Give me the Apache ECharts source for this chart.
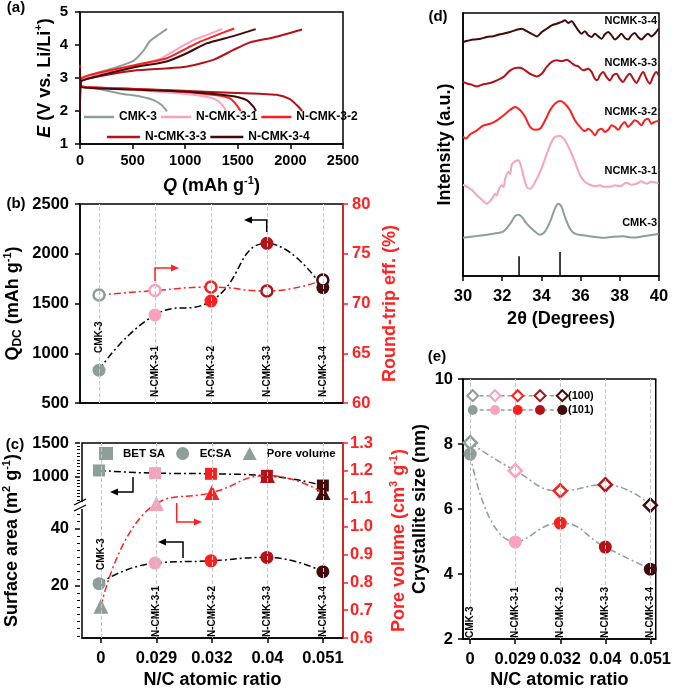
<!DOCTYPE html>
<html><head><meta charset="utf-8">
<script src="https://cdn.jsdelivr.net/npm/echarts@6/dist/echarts.min.js"></script>
<style>html,body{margin:0;padding:0;background:#fff}#c{width:674px;height:692px}</style>
</head><body><div id="c"></div>
<script>
// ---------------- DATA ----------------
const samples = ['CMK-3', 'N-CMK-3-1', 'N-CMK-3-2', 'N-CMK-3-3', 'N-CMK-3-4'];
const ratioLabels = ['0', '0.029', '0.032', '0.04', '0.051'];
const categoryIdx = [0, 1, 2, 3, 4];

// (a) voltage profiles [Q (mAh/g), E (V)]
const dischargeCMK3 = [[0,3.3],[8,2.78],[60,2.72],[190,2.66],[380,2.53],[570,2.44],[700,2.33],[776,2.18],[827,1.99]];
const chargeCMK3 = [[0,2.0],[6,2.92],[60,3.02],[190,3.18],[350,3.33],[507,3.52],[602,3.82],[665,4.12],[760,4.34],[827,4.49]];
const dischargeN1 = [[0,3.2],[8,2.76],[100,2.72],[507,2.64],[982,2.52],[1204,2.43],[1300,2.33],[1353,2.18],[1388,2.0]];
const chargeN1 = [[0,2.0],[6,2.9],[100,3.06],[507,3.36],[760,3.58],[951,3.93],[1077,4.15],[1204,4.3],[1352,4.49]];
const dischargeN2 = [[0,3.1],[8,2.76],[100,2.72],[824,2.62],[1299,2.48],[1426,2.38],[1489,2.18],[1527,2.0]];
const chargeN2 = [[0,2.1],[6,2.95],[100,3.1],[507,3.38],[824,3.6],[1014,3.9],[1141,4.1],[1299,4.3],[1466,4.5]];
const dischargeN3 = [[0,3.4],[8,2.77],[100,2.72],[600,2.66],[1141,2.59],[1711,2.52],[1870,2.49],[1996,2.36],[2060,2.18],[2112,2.0]];
const chargeN3 = [[0,2.0],[6,2.88],[100,3.0],[507,3.22],[982,3.33],[1267,3.55],[1458,3.85],[1616,4.08],[1838,4.23],[2112,4.47]];
const dischargeN4 = [[0,3.3],[8,2.74],[100,2.7],[982,2.59],[1458,2.45],[1584,2.33],[1648,2.13],[1673,2.0]];
const chargeN4 = [[0,2.0],[6,2.88],[100,3.0],[507,3.32],[824,3.5],[1014,3.75],[1204,4.05],[1458,4.27],[1670,4.48]];

// (b)
const qdc = [830, 1385, 1525, 2105, 1660];
const roundTrip = [70.85, 71.3, 71.65, 71.25, 72.35];

// (c)
const betSA = [1090, 1050, 1040, 1010, 865];
const ecsa = [20.8, 28.0, 28.8, 30.0, 25.0];
const poreVolume = [0.714, 1.083, 1.122, 1.183, 1.122];

// (d) XRD [2theta, intensity a.u.]
const xrdLabels = ['CMK-3', 'NCMK-3-1', 'NCMK-3-2', 'NCMK-3-3', 'NCMK-3-4'];
const xrdCMK3 = [[30.0,14.5],[30.71,15.2],[31.56,16.1],[32.07,17.0],[32.41,19.9],[32.66,22.8],[32.83,23.3],[33.0,22.5],[33.25,19.9],[33.59,17.4],[33.93,15.7],[34.19,17.0],[34.44,20.6],[34.69,25.6],[34.86,27.5],[35.03,26.3],[35.2,22.5],[35.46,18.0],[35.71,16.1],[36.14,15.5],[36.64,14.9],[37.15,14.5],[37.66,14.9],[38.17,15.1],[38.68,14.6],[39.19,15.1],[39.69,15.7],[39.98,16.1]];
const xrdN1 = [[30.0,34.7],[30.37,33.2],[30.71,30.7],[31.05,28.4],[31.22,27.5],[31.47,29.2],[31.64,31.3],[31.72,30.6],[31.81,32.6],[31.98,34.5],[32.07,33.8],[32.15,37.0],[32.32,39.6],[32.4,38.8],[32.49,42.4],[32.66,43.6],[32.83,44.0],[32.92,42.7],[33.08,38.3],[33.25,33.9],[33.42,33.2],[33.68,35.8],[33.93,39.6],[34.19,44.6],[34.44,49.7],[34.69,52.9],[34.95,53.2],[35.2,51.6],[35.46,47.8],[35.71,43.4],[35.97,38.3],[36.22,35.8],[36.47,34.7],[36.73,34.2],[36.98,34.5],[37.24,33.9],[37.49,33.9],[37.75,34.5],[38.0,34.1],[38.17,34.7],[38.34,35.5],[38.59,34.7],[38.85,35.1],[39.1,36.0],[39.36,35.1],[39.61,35.8],[39.86,35.5],[39.98,35.1]];
const xrdN2 = [[30.0,52.9],[30.15,52.3],[30.37,53.9],[30.71,55.4],[31.05,57.3],[31.39,57.9],[31.73,59.2],[32.07,61.1],[32.41,63.2],[32.66,64.3],[32.92,63.0],[33.17,60.5],[33.42,56.7],[33.68,55.6],[33.93,56.0],[34.19,59.2],[34.44,63.0],[34.69,65.5],[34.95,66.5],[35.2,65.5],[35.46,63.0],[35.71,59.2],[35.97,56.7],[36.22,55.1],[36.39,56.0],[36.56,55.1],[36.73,53.5],[36.9,55.4],[37.07,56.0],[37.24,54.8],[37.41,55.6],[37.58,57.3],[37.75,56.7],[37.92,55.6],[38.08,57.3],[38.25,58.6],[38.42,56.7],[38.59,57.9],[38.76,59.2],[38.93,58.6],[39.1,57.3],[39.27,59.2],[39.44,59.8],[39.61,57.9],[39.78,58.6],[39.98,58.9]];
const xrdN3 = [[30.0,73.8],[30.2,73.2],[30.37,72.9],[30.55,72.4],[30.71,72.1],[31.05,72.9],[31.39,73.4],[31.73,74.4],[32.07,75.7],[32.41,78.2],[32.75,79.2],[32.92,79.2],[33.17,78.2],[33.42,76.9],[33.76,75.9],[34.02,76.9],[34.27,79.5],[34.53,81.4],[34.78,82.0],[35.03,81.7],[35.29,82.2],[35.54,81.0],[35.71,80.1],[35.88,79.7],[36.14,78.2],[36.39,78.8],[36.56,77.6],[36.73,75.0],[36.85,74.4],[36.98,76.3],[37.15,77.6],[37.32,75.7],[37.49,74.4],[37.66,76.3],[37.83,76.9],[38.0,75.0],[38.17,73.8],[38.34,75.7],[38.51,76.9],[38.68,75.0],[38.85,73.4],[39.02,75.7],[39.19,77.6],[39.36,75.0],[39.53,73.1],[39.69,75.7],[39.86,77.6],[39.98,76.3]];
const xrdN4 = [[30.0,89.0],[30.54,89.9],[30.9,90.2],[31.22,90.9],[31.55,91.2],[31.9,91.9],[32.41,92.8],[33.0,94.0],[33.25,93.1],[33.51,92.1],[33.76,91.1],[34.02,92.8],[34.27,94.0],[34.53,95.3],[34.78,95.9],[35.03,96.6],[35.2,97.2],[35.37,96.2],[35.54,96.9],[35.71,95.3],[35.88,93.4],[36.05,92.1],[36.22,93.1],[36.39,91.5],[36.56,90.9],[36.73,92.1],[36.9,91.1],[37.07,90.2],[37.24,91.9],[37.41,92.8],[37.58,91.5],[37.75,89.9],[37.92,90.9],[38.08,92.1],[38.25,90.6],[38.42,89.9],[38.59,91.5],[38.76,92.4],[38.93,90.9],[39.1,89.9],[39.27,91.1],[39.44,92.1],[39.61,91.1],[39.78,92.1],[39.98,94.0]];
const refPeaks = [[32.86, 7.5], [34.95, 9.1]];

// (e) crystallite size (nm)
const cs100 = [8.04, 7.18, 6.56, 6.75, 6.12];
const cs101 = [7.69, 4.99, 5.57, 4.83, 4.15];

// ---------------- STYLE ----------------
const palette = ['#8E9E98', '#F7A3C0', '#FF1E1E', '#B31218', '#420A0A'];
const RED = '#FF2222';
const FONT = '"Liberation Sans", Arial, sans-serif';
const DASHDOT = [7, 3, 2, 3];

function merge(a, b) {
  const r = Object.assign({}, a);
  for (const k in b) {
    if (b[k] && typeof b[k] === 'object' && !Array.isArray(b[k]) && a[k] && typeof a[k] === 'object' && !Array.isArray(a[k])) r[k] = merge(a[k], b[k]);
    else r[k] = b[k];
  }
  return r;
}
function nameStyle(color) {
  const base = {fontWeight: 'bold', fontFamily: FONT, color: color};
  return {fontSize: 18, fontWeight: 'bold', fontFamily: FONT, color: color, lineHeight: 22,
    rich: {
      n: merge(base, {fontSize: 18, lineHeight: 22}),
      i: merge(base, {fontSize: 18, fontStyle: 'italic', lineHeight: 22}),
      sup: merge(base, {fontSize: 11, lineHeight: 11, verticalAlign: 'top'}),
      sub: merge(base, {fontSize: 12, lineHeight: 12, verticalAlign: 'bottom'})
    }};
}
const plain = v => String(Math.round(v * 1000) / 1000);
const baseAxis = {
  type: 'value',
  axisLine: {show: true, onZero: false, lineStyle: {color: '#000', width: 1.5}},
  axisTick: {show: true, inside: false, length: 5, lineStyle: {color: '#000', width: 1.5}},
  axisLabel: {color: '#000', fontSize: 16.5, fontWeight: 'bold', fontFamily: FONT, formatter: plain},
  splitLine: {show: false},
  nameLocation: 'middle',
  nameTextStyle: nameStyle('#000')
};
function ax(o) { return merge(baseAxis, o); }

const gridBox = {show: true, borderColor: '#000', borderWidth: 1.5, backgroundColor: 'transparent'};
const grids = [
  merge(gridBox, {left: 80, top: 12, width: 263, height: 132}),   // a
  merge(gridBox, {left: 80, top: 204, width: 263, height: 199}),  // b
  {show: false, left: 80, top: 443, width: 263, height: 67},      // c upper
  {show: false, left: 80, top: 506, width: 263, height: 137},     // c lower
  merge(gridBox, {left: 80, top: 443, width: 263, height: 200}),  // c full
  merge(gridBox, {left: 463, top: 13, width: 196, height: 263}),  // d
  merge(gridBox, {left: 463, top: 379, width: 196, height: 264})  // e
];

const catAxisBC = {min: -0.34, max: 4.36};
const xAxes = [
  ax({gridIndex: 0, min: 0, max: 2500, interval: 500, axisLabel: {fontSize: 14.5, margin: 9},
      name: '{i|Q}{n| (mAh g}{sup|-1}{n|)}', nameGap: 31}),
  ax(merge(catAxisBC, {gridIndex: 1, axisLabel: {show: false}, axisTick: {show: false}})),
  ax(merge(catAxisBC, {gridIndex: 2, show: false})),
  ax(merge(catAxisBC, {gridIndex: 3, show: false})),
  ax(merge(catAxisBC, {gridIndex: 4, axisTick: {customValues: categoryIdx},
      axisLabel: {customValues: categoryIdx, margin: 12, formatter: v => ratioLabels[Math.round(v)]},
      name: 'N/C atomic ratio', nameGap: 31})),
  ax({gridIndex: 5, min: 30, max: 40, interval: 2, axisLabel: {margin: 12},
      name: '2θ (Degrees)', nameGap: 32}),
  ax({gridIndex: 6, min: -0.16, max: 4.12, axisTick: {customValues: categoryIdx},
      axisLabel: {customValues: categoryIdx, margin: 12, formatter: v => ratioLabels[Math.round(v)]},
      name: 'N/C atomic ratio', nameGap: 29})
];

const redAxis = {axisLine: {lineStyle: {color: RED}}, axisTick: {lineStyle: {color: RED}}, axisLabel: {color: RED}, nameTextStyle: nameStyle(RED)};
const yAxes = [
  ax({gridIndex: 0, min: 1, max: 5, interval: 1, axisLabel: {fontSize: 15, margin: 12},
      name: '{i|E}{n| (V vs. Li/Li}{sup|+}{n|)}', nameGap: 24, nameRotate: 90}),
  ax({gridIndex: 1, min: 500, max: 2500, interval: 500, axisLabel: {margin: 11},
      name: '{n|Q}{sub|DC}{n| (mAh g}{sup|-1}{n|)}', nameGap: 56, nameRotate: 90}),
  ax(merge(redAxis, {gridIndex: 1, position: 'right', min: 60, max: 80, interval: 5, axisLabel: {margin: 9},
      name: 'Round-trip eff. (%)', nameGap: 36, nameRotate: 90})),
  ax({gridIndex: 2, min: 500, max: 1500, interval: 500, axisLine: {show: false},
      axisTick: {customValues: [1000, 1500]}, axisLabel: {customValues: [1000, 1500], margin: 11},
      minorTick: {show: true, splitNumber: 10, length: 3, lineStyle: {color: '#000', width: 1}}}),
  ax({gridIndex: 3, min: 0, max: 48, interval: 20, axisLine: {show: false},
      axisTick: {customValues: [20, 40]}, axisLabel: {customValues: [20, 40], margin: 11},
      minorTick: {show: true, splitNumber: 8, length: 3, lineStyle: {color: '#000', width: 1}}}),
  ax(merge(redAxis, {gridIndex: 4, position: 'right', min: 0.6, max: 1.3, interval: 0.1,
      axisLabel: {margin: 7, formatter: v => v.toFixed(1)},
      name: '{n|Pore volume (cm}{sup|3}{n| g}{sup|-1}{n|)}', nameGap: 45, nameRotate: 90})),
  ax({gridIndex: 4, position: 'left', min: 0, max: 1, axisLine: {show: false}, axisTick: {show: false}, axisLabel: {show: false},
      name: '{n|Surface area (m}{sup|2}{n| g}{sup|-1}{n|)}', nameGap: 59, nameRotate: 90}),
  ax({gridIndex: 5, min: 0, max: 100, axisTick: {show: false}, axisLabel: {show: false},
      name: 'Intensity (a.u.)', nameGap: 7, nameRotate: 90}),
  ax({gridIndex: 6, min: 2, max: 10, interval: 2, axisLabel: {margin: 10},
      name: 'Crystallite size (nm)', nameGap: 26, nameRotate: 90})
];

function vgrid(xi, yi, data) {
  return {type: 'line', xAxisIndex: xi, yAxisIndex: yi, data: data, symbol: 'none', silent: true,
    lineStyle: {opacity: 0}, z: 1,
    markLine: {silent: true, symbol: 'none', label: {show: false},
      lineStyle: {color: '#c8c8c8', type: 'dashed', width: 1},
      data: categoryIdx.map(i => ({xAxis: i}))}};
}
function pts(arr) { return arr.map((v, i) => [i, v]); }

const series = [];
// (a)
const dischargeCurves = [dischargeCMK3, dischargeN1, dischargeN2, dischargeN3, dischargeN4];
const chargeCurves = [chargeCMK3, chargeN1, chargeN2, chargeN3, chargeN4];
samples.forEach((s, i) => {
  [dischargeCurves[i], chargeCurves[i]].forEach(d => series.push({
    type: 'line', name: s, xAxisIndex: 0, yAxisIndex: 0, data: d, symbol: 'none', smooth: 0.2,
    lineStyle: {width: 2, color: palette[i]}, itemStyle: {color: palette[i]}, z: 2 + (i === 3 ? 0 : 1)
  }));
});
// (b)
series.push(vgrid(1, 1, pts(qdc)));
series.push({type: 'line', name: 'Q_DC', xAxisIndex: 1, yAxisIndex: 1, smooth: 0.5,
  data: qdc.map((v, i) => ({value: [i, v], itemStyle: {color: palette[i]}})),
  symbol: 'circle', symbolSize: 13, lineStyle: {color: '#000', width: 1.5, type: DASHDOT}, z: 3});
series.push({type: 'line', name: 'RTE', xAxisIndex: 1, yAxisIndex: 2, smooth: 0.5,
  data: roundTrip.map((v, i) => ({value: [i, v], itemStyle: {color: '#fff', borderColor: palette[i], borderWidth: 2.5}})),
  symbol: 'circle', symbolSize: 11, lineStyle: {color: '#FF2020', width: 1.5, type: DASHDOT}, z: 4});
// (c)
series.push(vgrid(4, 5, pts(poreVolume)));
series.push({type: 'line', name: 'BET SA', xAxisIndex: 2, yAxisIndex: 3, smooth: 0.5,
  data: betSA.map((v, i) => ({value: [i, v], itemStyle: {color: palette[i]}})),
  symbol: 'rect', symbolSize: 12, lineStyle: {color: '#000', width: 1.5, type: DASHDOT}, itemStyle: {color: palette[0]}, z: 3});
series.push({type: 'line', name: 'ECSA', xAxisIndex: 3, yAxisIndex: 4, smooth: 0.5,
  data: ecsa.map((v, i) => ({value: [i, v], itemStyle: {color: palette[i]}})),
  symbol: 'circle', symbolSize: 13, lineStyle: {color: '#000', width: 1.5, type: DASHDOT}, itemStyle: {color: palette[0]}, z: 3});
series.push({type: 'line', name: 'Pore volume', xAxisIndex: 4, yAxisIndex: 5, smooth: 0.5,
  data: poreVolume.map((v, i) => ({value: [i, v], itemStyle: {color: palette[i]}})),
  symbol: 'triangle', symbolSize: 15, lineStyle: {color: '#FF2020', width: 1.5, type: DASHDOT}, itemStyle: {color: palette[0]}, z: 4});
// (d)
[xrdCMK3, xrdN1, xrdN2, xrdN3, xrdN4].forEach((d, i) => series.push({
  type: 'line', name: xrdLabels[i], xAxisIndex: 5, yAxisIndex: 7, data: d, symbol: 'none', smooth: 0.3,
  lineStyle: {width: 2, color: palette[i]}, z: 2}));
series.push({type: 'bar', name: 'ref', xAxisIndex: 5, yAxisIndex: 7, data: refPeaks, barWidth: 1.5, itemStyle: {color: '#000'}});
// (e)
series.push(vgrid(6, 8, pts(cs101)));
series.push({type: 'line', name: '(100)', xAxisIndex: 6, yAxisIndex: 8, smooth: 0.5,
  data: cs100.map((v, i) => ({value: [i, v], itemStyle: {color: '#fff', borderColor: palette[i], borderWidth: 2.5}})),
  symbol: 'diamond', symbolSize: 13, lineStyle: {color: palette[0], width: 1.5, type: DASHDOT}, z: 4});
series.push({type: 'line', name: '(101)', xAxisIndex: 6, yAxisIndex: 8, smooth: 0.5,
  data: cs101.map((v, i) => ({value: [i, v], itemStyle: {color: palette[i]}})),
  symbol: 'circle', symbolSize: 13, lineStyle: {color: palette[0], width: 1.5, type: DASHDOT}, z: 3});

const legText = {fontSize: 12, fontWeight: 'bold', fontFamily: FONT, color: '#000'};
const legends = [
  {data: samples.slice(0, 3), left: 84, top: 111, icon: 'rect', itemWidth: 30, itemHeight: 2.5, itemGap: 4, selectedMode: false, textStyle: legText, padding: 0},
  {data: samples.slice(3), left: 107, top: 131, icon: 'rect', itemWidth: 33, itemHeight: 2.5, itemGap: 4, selectedMode: false, textStyle: legText, padding: 0},
  {data: [
      {name: 'BET SA', icon: 'rect', itemStyle: {color: palette[0]}},
      {name: 'ECSA', icon: 'circle', itemStyle: {color: palette[0]}},
      {name: 'Pore volume', icon: 'triangle', itemStyle: {color: palette[0]}}],
    left: 99, top: 447, itemWidth: 14, itemHeight: 13, itemGap: 11, selectedMode: false, padding: 0,
    textStyle: merge(legText, {fontSize: 11.5, padding: [0, 0, 0, 5]})}
];

const chart = echarts.init(document.getElementById('c'), null, {renderer: 'canvas'});
chart.setOption({
  animation: false,
  backgroundColor: '#fff',
  textStyle: {fontFamily: FONT},
  grid: grids, xAxis: xAxes, yAxis: yAxes, legend: legends, series: series
});

// ---------------- ANNOTATIONS ----------------
const g = [];
function txt(x, y, text, o) {
  return {type: 'text', x: x, y: y, z: 50, style: Object.assign({text: text, fontSize: 15, fontWeight: 'bold', fontFamily: FONT, fill: '#000', align: 'center', verticalAlign: 'middle'}, o || {})};
}
[['(a)', 16, 8], ['(b)', 16, 204], ['(c)', 15, 445], ['(d)', 438, 17], ['(e)', 437, 357]].forEach(p => g.push(txt(p[1], p[2], p[0])));

function arrow(points, color) {
  const a = points[points.length - 2], b = points[points.length - 1];
  const ang = Math.atan2(b[1] - a[1], b[0] - a[0]);
  const L = 8, W = 3.5;
  const bx = b[0] - L * Math.cos(ang), by = b[1] - L * Math.sin(ang);
  const head = [b, [bx - W * Math.sin(ang), by + W * Math.cos(ang)], [bx + W * Math.sin(ang), by - W * Math.cos(ang)]];
  g.push({type: 'polyline', z: 50, shape: {points: points.slice(0, -1).concat([[bx, by]])}, style: {stroke: color, lineWidth: 1.5, fill: null}});
  g.push({type: 'polygon', z: 50, shape: {points: head}, style: {fill: color}});
}
arrow([[266.7, 232], [266.7, 220], [244, 220]], '#000');
arrow([[155, 281], [155, 268], [179, 268]], RED);
arrow([[133, 477], [133, 492], [110, 492]], '#000');
arrow([[176.7, 503], [176.7, 522], [202, 522]], RED);
arrow([[183, 558], [183, 542], [158, 542]], '#000');

// axis break in (c)
g.push({type: 'rect', z: 50, shape: {x: 77, y: 502, width: 6, height: 7}, style: {fill: '#fff'}});
g.push({type: 'line', z: 51, shape: {x1: 74, y1: 505, x2: 86, y2: 499}, style: {stroke: '#000', lineWidth: 1.3}});
g.push({type: 'line', z: 51, shape: {x1: 74, y1: 511, x2: 86, y2: 505}, style: {stroke: '#000', lineWidth: 1.3}});

// rotated sample labels
function rot(xAxisIndex, i, yBottom) {
  const x = chart.convertToPixel({xAxisIndex: xAxisIndex}, i);
  g.push({type: 'text', x: x, y: yBottom, rotation: Math.PI / 2, z: 50,
    style: {text: samples[i], fontSize: 10, fontWeight: 'bold', fontFamily: FONT, fill: '#000', align: 'left', verticalAlign: 'middle'}});
}
categoryIdx.forEach(i => {
  rot(1, i, i === 0 ? 353 : 397);
  rot(4, i, i === 0 ? 570 : 637);
  rot(6, i, 638);
});

// XRD labels
const xrdLabelY = [223, 171, 112, 63, 21];
xrdLabels.forEach((t, i) => g.push(txt(657, xrdLabelY[i], t, {fontSize: 11, align: 'right'})));

// (e) legend
const legXs = [472.7, 495, 517.7, 540, 562.3];
[395.7, 410].forEach((y, row) => {
  g.push({type: 'line', z: 50, shape: {x1: legXs[0], y1: y, x2: legXs[4], y2: y}, style: {stroke: palette[0], lineWidth: 1.5, lineDash: [4, 3]}});
  legXs.forEach((x, i) => {
    if (row === 0) g.push({type: 'polygon', z: 51, shape: {points: [[x, y - 5.5], [x + 5.5, y], [x, y + 5.5], [x - 5.5, y]]}, style: {fill: '#fff', stroke: palette[i], lineWidth: 2}});
    else g.push({type: 'circle', z: 51, shape: {cx: x, cy: y, r: 5}, style: {fill: palette[i]}});
  });
  g.push(txt(568, y, row === 0 ? '(100)' : '(101)', {fontSize: 11, align: 'left'}));
});

chart.setOption({graphic: g});
</script></body></html>
